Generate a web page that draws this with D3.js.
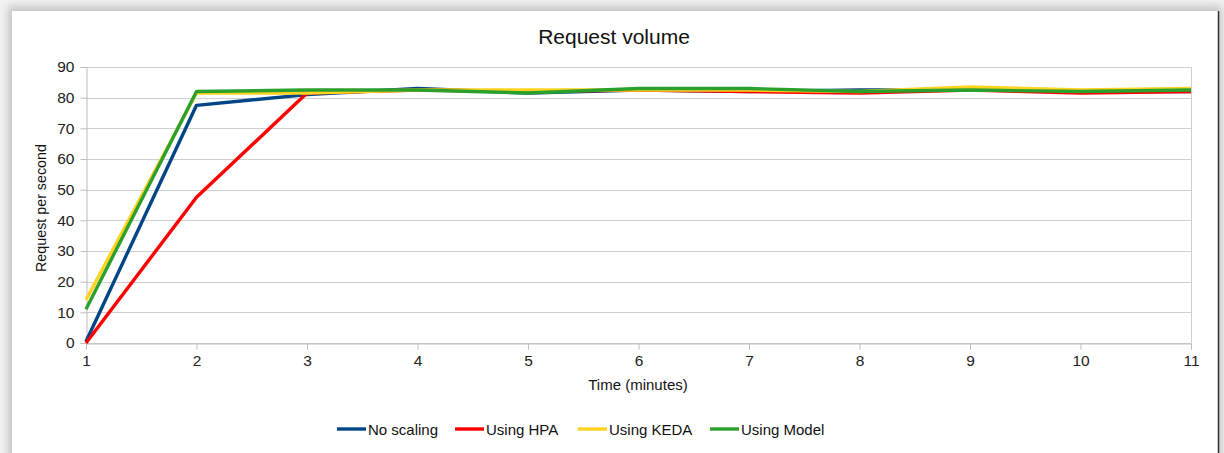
<!DOCTYPE html>
<html>
<head>
<meta charset="utf-8">
<script src="https://cdn.jsdelivr.net/npm/d3@7"></script>
<style>
  html, body { margin: 0; padding: 0; background: #e6e6e6; }
  svg { display: block; font-family: "Liberation Sans", Arial, sans-serif; }
</style>
</head>
<body>
<svg id="chart" width="1224" height="453"></svg>
<script>
// Minutes since start
const minutes = [1, 2, 3, 4, 5, 6, 7, 8, 9, 10, 11];
// Requests per second for each scaling strategy
const noScaling  = [0.5, 77.5, 81, 83, 81.5, 82.5, 82, 82.5, 82.5, 82, 82];
const usingHPA   = [0, 47.5, 81.5, 82.5, 82, 82.5, 82, 81.5, 82.5, 81.5, 82];
const usingKEDA  = [14, 81.5, 81.5, 82.5, 82.5, 82.5, 82.5, 82, 83.5, 82.5, 83];
const usingModel = [11, 82, 82.5, 82.5, 81.5, 83, 83, 82, 82.5, 82, 82.5];
const seriesNames = ["No scaling", "Using HPA", "Using KEDA", "Using Model"];
const seriesColors = ["#004586", "#ff0000", "#ffd320", "#2ca02c"];
const yTicks = [0, 10, 20, 30, 40, 50, 60, 70, 80, 90];

const seriesValues = [noScaling, usingHPA, usingKEDA, usingModel];
const series = seriesNames.map((name, i) => ({
  name, color: seriesColors[i],
  points: minutes.map((m, j) => ({ x: m, y: seriesValues[i][j] }))
}));

const svg = d3.select("#chart");

// Page background with soft shadow around the white panel
const defs = svg.append("defs");
const blur = defs.append("filter").attr("id", "shadow")
  .attr("x", "-5%").attr("y", "-10%").attr("width", "110%").attr("height", "120%");
blur.append("feGaussianBlur").attr("stdDeviation", 4);
svg.append("rect").attr("width", 1224).attr("height", 453).attr("fill", "#f2f2f2");
svg.append("rect").attr("x", 8).attr("y", 6).attr("width", 1214).attr("height", 460)
  .attr("fill", "#c4c4c4").attr("filter", "url(#shadow)");
svg.append("rect").attr("x", 12).attr("y", 11).attr("width", 1206).attr("height", 450)
  .attr("fill", "#ffffff");
svg.append("line").attr("x1", 1218.5).attr("x2", 1218.5).attr("y1", 11).attr("y2", 453)
  .attr("stroke", "#333").attr("stroke-width", 1.5);

const plotLeft = 86, plotRight = 1191, plotTop = 67, plotBottom = 343;
const x = d3.scaleLinear().domain([1, 11]).range([plotLeft, plotRight]);
const y = d3.scaleLinear().domain([0, 90]).range([plotBottom, plotTop]);

// Horizontal gridlines
svg.append("g").selectAll("line").data(yTicks).join("line")
  .attr("x1", plotLeft).attr("x2", plotRight)
  .attr("y1", d => Math.round(y(d)) + 0.5).attr("y2", d => Math.round(y(d)) + 0.5)
  .attr("stroke", "#cfcfcf").attr("stroke-width", 1);

// Right border of plot area
svg.append("line").attr("x1", plotRight + 0.5).attr("x2", plotRight + 0.5)
  .attr("y1", plotTop).attr("y2", plotBottom).attr("stroke", "#cfcfcf");

// Y axis
const yAxis = svg.append("g").attr("transform", `translate(${plotLeft + 0.5},0)`)
  .call(d3.axisLeft(y).tickValues(yTicks).tickSize(6).tickPadding(6));
yAxis.select(".domain").attr("stroke", "#bdbdbd");
yAxis.selectAll(".tick line").attr("stroke", "#bdbdbd");
yAxis.selectAll(".tick text").attr("font-size", 15.5).attr("fill", "#222")
  .attr("font-family", "Liberation Sans, Arial, sans-serif");

// X axis
const xAxis = svg.append("g").attr("transform", `translate(0,${plotBottom + 0.5})`)
  .call(d3.axisBottom(x).tickValues(minutes).tickSize(6).tickPadding(5).tickFormat(d3.format("d")));
xAxis.select(".domain").attr("stroke", "#bdbdbd");
xAxis.selectAll(".tick line").attr("stroke", "#bdbdbd");
xAxis.selectAll(".tick text").attr("font-size", 15.5).attr("fill", "#222")
  .attr("font-family", "Liberation Sans, Arial, sans-serif");

// Series lines
const line = d3.line().x(d => x(d.x)).y(d => y(d.y));
svg.append("g").selectAll("path").data(series).join("path")
  .attr("d", d => line(d.points))
  .attr("fill", "none")
  .attr("stroke", d => d.color)
  .attr("stroke-width", 3.4)
  .attr("stroke-linejoin", "round");

// Titles
svg.append("text").attr("x", 614).attr("y", 44).attr("text-anchor", "middle")
  .attr("font-size", 21).attr("fill", "#111").text("Request volume");
svg.append("text").attr("x", 638).attr("y", 390).attr("text-anchor", "middle")
  .attr("font-size", 15).attr("fill", "#111").text("Time (minutes)");
svg.append("text").attr("transform", "translate(46,208) rotate(-90)")
  .attr("text-anchor", "middle").attr("font-size", 14.3).attr("fill", "#111")
  .text("Request per second");

// Legend
const legendX = [337, 455, 578, 710];
const legend = svg.append("g").selectAll("g").data(series).join("g")
  .attr("transform", (d, i) => `translate(${legendX[i]},429)`);
legend.append("line").attr("x1", 0).attr("x2", 29).attr("y1", 0).attr("y2", 0)
  .attr("stroke", d => d.color).attr("stroke-width", 3.4);
legend.append("text").attr("x", 31).attr("y", 5.5)
  .attr("font-size", 15).attr("fill", "#111").text(d => d.name);
</script>
</body>
</html>
